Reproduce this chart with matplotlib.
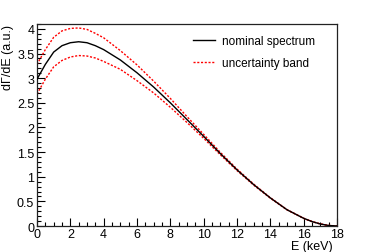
import matplotlib
matplotlib.use("Agg")
import matplotlib.pyplot as plt
from matplotlib.ticker import MultipleLocator

plt.rcParams['font.family'] = ['Liberation Sans', 'DejaVu Sans']

energy = [0, 0.5, 1, 1.5, 2, 2.5, 3, 3.5, 4, 5, 6, 7, 8, 9, 10, 11, 12, 13, 14, 15, 16, 16.5, 17, 17.5, 18]
nominal = [2.98, 3.28, 3.53, 3.66, 3.72, 3.74, 3.72, 3.66, 3.58, 3.37, 3.11, 2.82, 2.50, 2.16, 1.82, 1.47, 1.14, 0.84, 0.57, 0.33, 0.156, 0.09, 0.041, 0.0105, 0.0]
upper = [3.28, 3.58, 3.83, 3.96, 4.01, 4.02, 3.99, 3.91, 3.82, 3.56, 3.27, 2.94, 2.59, 2.22, 1.86, 1.495, 1.155, 0.85, 0.575, 0.333, 0.157, 0.09, 0.041, 0.0105, 0.0]
lower = [2.68, 2.98, 3.23, 3.36, 3.43, 3.46, 3.45, 3.41, 3.34, 3.18, 2.95, 2.70, 2.41, 2.10, 1.78, 1.445, 1.125, 0.83, 0.565, 0.327, 0.155, 0.09, 0.041, 0.0105, 0.0]

x_label = "E (keV)"
y_label = "dΓ/dE (a.u.)"
legend_labels = ["nominal spectrum", "uncertainty band"]

fig = plt.figure(figsize=(3.74, 2.53), dpi=100)
ax = fig.add_axes([37/374, 1 - 227/253, 300/374, 202/253])

ax.plot(energy, nominal, color='black', lw=1.0, label=legend_labels[0], zorder=3)
ax.plot(energy, upper, color='#ff0000', lw=1.0, ls=(0, (1.5, 1.2)), label=legend_labels[1], zorder=2)
ax.plot(energy, lower, color='#ff0000', lw=1.0, ls=(0, (1.5, 1.2)), zorder=2)

ax.set_xlim(0, 18)
ax.set_ylim(0, 4.1)
ax.xaxis.set_major_locator(MultipleLocator(2))
ax.xaxis.set_minor_locator(MultipleLocator(0.5))
ax.yaxis.set_major_locator(MultipleLocator(0.5))
ax.yaxis.set_minor_locator(MultipleLocator(0.1))
ax.tick_params(which='both', direction='in', top=False, right=False, labelsize=9, colors='black')
ax.tick_params(which='major', length=6, width=0.8)
ax.tick_params(which='minor', length=3, width=0.8)
ax.tick_params(axis='x', pad=1.5)
ax.tick_params(axis='y', pad=2)
ax.set_yticks([0, 0.5, 1, 1.5, 2, 2.5, 3, 3.5, 4])
ax.set_yticklabels(["0", "0.5", "1", "1.5", "2", "2.5", "3", "3.5", "4"])

for s in ax.spines.values():
    s.set_linewidth(0.9)
    s.set_color('#222222')

ax.set_xlabel(x_label, fontsize=9)
ax.xaxis.set_label_coords(0.987, -0.068, transform=ax.transAxes)
ax.xaxis.label.set_horizontalalignment('right')
ax.set_ylabel(y_label, fontsize=9, loc='top', labelpad=2)

ax.legend(loc='upper right', bbox_to_anchor=(0.943, 0.97), frameon=False, fontsize=8.5,
          handlelength=1.9, handletextpad=0.6, labelspacing=0.9, borderaxespad=0.0)

fig.savefig("out.png", dpi=100)
